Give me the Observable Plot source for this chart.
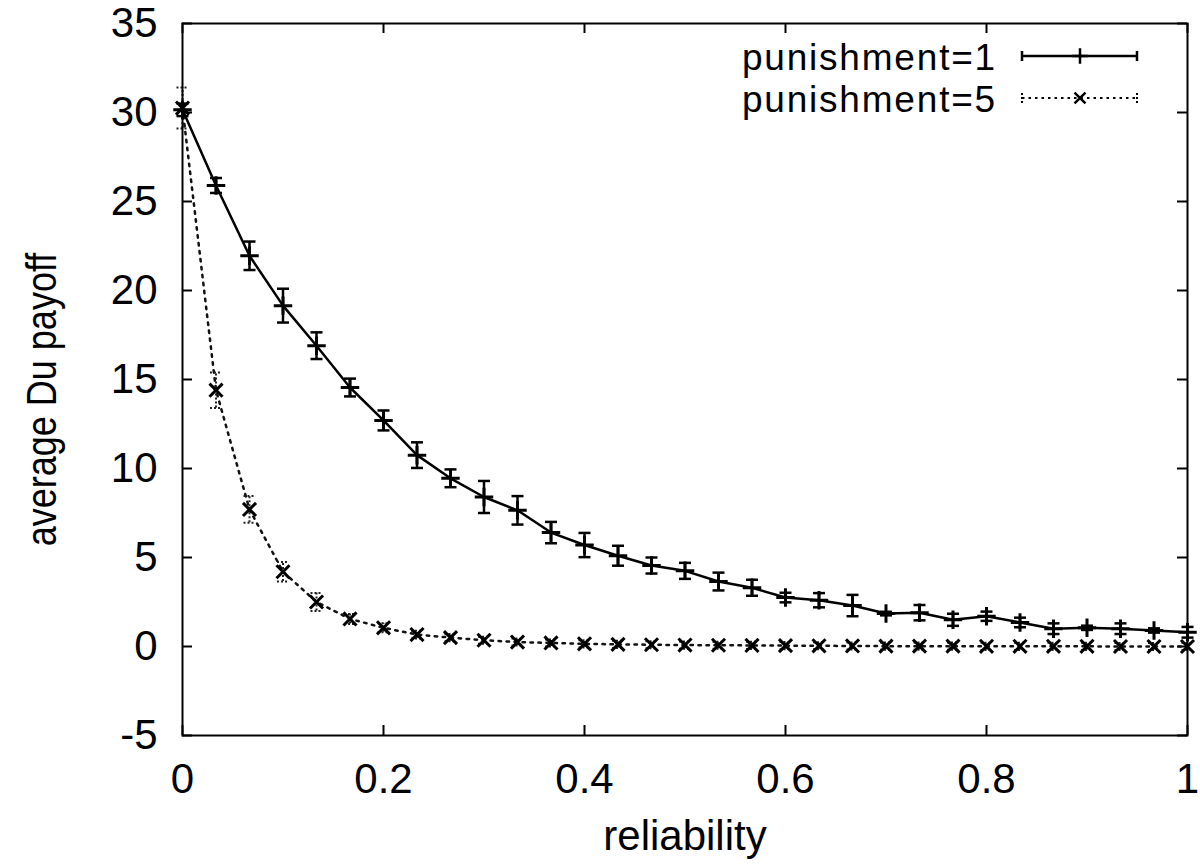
<!DOCTYPE html>
<html>
<head>
<meta charset="utf-8">
<script src="https://cdn.jsdelivr.net/npm/d3@7"></script>
<script src="https://cdn.jsdelivr.net/npm/@observablehq/plot@0.6"></script>
<style>
  html, body { margin: 0; padding: 0; background: #fff; }
  #chart { position: relative; width: 1200px; height: 864px; }
  svg { font-family: "Liberation Sans", Arial, Helvetica, sans-serif; }
</style>
</head>
<body>
<div id="chart"></div>
<script>
// ---- data ----
const reliability = [0, 1/30, 2/30, 3/30, 4/30, 5/30, 6/30, 7/30, 8/30, 9/30, 10/30,
  11/30, 12/30, 13/30, 14/30, 15/30, 16/30, 17/30, 18/30, 19/30, 20/30,
  21/30, 22/30, 23/30, 24/30, 25/30, 26/30, 27/30, 28/30, 29/30, 1];
const p1Mean = [30.15, 25.9, 21.95, 19.15, 16.9, 14.55, 12.7, 10.75, 9.45, 8.4, 7.65,
  6.4, 5.7, 5.1, 4.55, 4.25, 3.65, 3.3, 2.75, 2.6, 2.3,
  1.85, 1.9, 1.5, 1.7, 1.35, 1.0, 1.05, 1.0, 0.9, 0.8];
const p1Err = [0.35, 0.42, 0.8, 0.95, 0.75, 0.5, 0.56, 0.72, 0.5, 0.9, 0.8,
  0.6, 0.68, 0.56, 0.45, 0.45, 0.5, 0.45, 0.27, 0.4, 0.6,
  0.1, 0.43, 0.34, 0.26, 0.27, 0.3, 0.12, 0.3, 0.12, 0.3];
const p5Mean = [30.25, 14.4, 7.7, 4.2, 2.5, 1.55, 1.05, 0.67, 0.5, 0.35, 0.25,
  0.2, 0.15, 0.12, 0.1, 0.08, 0.07, 0.06, 0.05, 0.04, 0.03,
  0.02, 0.02, 0.02, 0.01, 0.01, 0.01, 0.01, 0, 0, 0];
const p5Err = [1.15, 1.0, 0.75, 0.55, 0.5, 0.28, 0.25, 0.22, 0.2, 0.2, 0.2,
  0.2, 0.2, 0.2, 0.2, 0.2, 0.2, 0.2, 0.2, 0.2, 0.2,
  0.2, 0.2, 0.2, 0.2, 0.2, 0.2, 0.2, 0.2, 0.2, 0.2];
const seriesNames = ["punishment=1", "punishment=5"];
const xTicks = [0, 0.2, 0.4, 0.6, 0.8, 1];
const yTicks = [-5, 0, 5, 10, 15, 20, 25, 30, 35];
const xLabel = "reliability";
const yLabel = "average Du payoff";

// ---- build tables ----
const rows1 = reliability.map((x, i) => ({x, y: p1Mean[i], lo: p1Mean[i] - p1Err[i], hi: p1Mean[i] + p1Err[i]}));
const rows5 = reliability.map((x, i) => ({x, y: p5Mean[i], lo: p5Mean[i] - p5Err[i], hi: p5Mean[i] + p5Err[i]}));

const W = 1200, H = 864, mL = 182, mR = 13, mT = 23, mB = 129;
const pw = W - mL - mR, ph = H - mT - mB;
const font = "Liberation Sans, Arial, Helvetica, sans-serif";

const capSymbol = {draw(ctx) { ctx.moveTo(-6, 0); ctx.lineTo(6, 0); }};

const chart = Plot.plot({
  width: W, height: H,
  marginLeft: mL, marginRight: mR, marginTop: mT, marginBottom: mB,
  style: {fontFamily: font, fontSize: "42px", background: "#fff", color: "#000"},
  x: {domain: [0, 1]},
  y: {domain: [-5, 35]},
  marks: [
    // inward ticks on all four sides
    Plot.tickY(yTicks, {y: d => d, insetRight: pw - 10, stroke: "#000", strokeWidth: 2}),
    Plot.tickY(yTicks, {y: d => d, insetLeft: pw - 10, stroke: "#000", strokeWidth: 2}),
    Plot.tickX(xTicks, {x: d => d, insetTop: ph - 10, stroke: "#000", strokeWidth: 2}),
    Plot.tickX(xTicks, {x: d => d, insetBottom: ph - 10, stroke: "#000", strokeWidth: 2}),
    // tick labels
    Plot.axisY(yTicks, {tickSize: 0, tickPadding: 25, label: null, fontSize: 42, tickFormat: d => String(d)}),
    Plot.axisX(xTicks, {tickSize: 0, tickPadding: 28, label: null, fontSize: 42, tickFormat: d => String(d)}),
    // axis titles
    Plot.text([xLabel], {frameAnchor: "bottom", dy: 114, fontSize: 42, fill: "#000"}),
    Plot.text([yLabel], {frameAnchor: "left", textAnchor: "middle", dx: -140, dy: 20, rotate: -90, fontSize: 40, fill: "#000"}),
    // punishment=5 (dotted)
    Plot.line(rows5, {x: "x", y: "y", stroke: "#111", strokeWidth: 2.5, strokeDasharray: "2.5,5.5"}),
    Plot.ruleX(rows5, {x: "x", y1: "lo", y2: "hi", stroke: "#222", strokeWidth: 2, strokeDasharray: "2,2"}),
    Plot.dot(rows5, {x: "x", y: "lo", symbol: capSymbol, fill: "none", stroke: "#222", strokeWidth: 2, strokeDasharray: "2,2"}),
    Plot.dot(rows5, {x: "x", y: "hi", symbol: capSymbol, fill: "none", stroke: "#222", strokeWidth: 2, strokeDasharray: "2,2"}),
    Plot.dot(rows5, {x: "x", y: "y", symbol: "times", r: 6, stroke: "#000", strokeWidth: 3}),
    // punishment=1 (solid)
    Plot.line(rows1, {x: "x", y: "y", stroke: "#000", strokeWidth: 2.5}),
    Plot.ruleX(rows1, {x: "x", y1: "lo", y2: "hi", stroke: "#000", strokeWidth: 2.5}),
    Plot.dot(rows1, {x: "x", y: "lo", symbol: capSymbol, fill: "none", stroke: "#000", strokeWidth: 2.5}),
    Plot.dot(rows1, {x: "x", y: "hi", symbol: capSymbol, fill: "none", stroke: "#000", strokeWidth: 2.5}),
    Plot.dot(rows1, {x: "x", y: "y", symbol: "plus", r: 6, stroke: "#000", strokeWidth: 3}),
    Plot.frame({stroke: "#000", strokeWidth: 2})
  ]
});
document.getElementById("chart").appendChild(chart);

// condense the rotated y title a bit (as in the reference)
d3.select(chart).selectAll("text").each(function() {
  if (this.textContent === yLabel) {
    const t = this.getAttribute("transform") || "";
    this.setAttribute("transform", t + " scale(0.9,1.05)");
  }
});

// ---- legend (inside top-right of the frame) ----
const svg = d3.select(chart);
const lg = svg.append("g").attr("font-family", font).attr("font-size", 37).attr("letter-spacing", "1.8px");
const rowsY = [56, 98];
const baselines = [70, 112];
const styles = [
  {dash: null, width: 2.5, sym: d3.symbolPlus},
  {dash: "2.5,4", width: 2, sym: d3.symbolTimes}
];
seriesNames.forEach((name, i) => {
  const y = rowsY[i];
  lg.append("text").attr("x", 997).attr("y", baselines[i]).attr("text-anchor", "end").attr("fill", "#000").text(name);
  const s = styles[i];
  const ln = lg.append("line").attr("x1", 1022).attr("x2", 1137).attr("y1", y).attr("y2", y)
    .attr("stroke", "#000").attr("stroke-width", s.width);
  if (s.dash) ln.attr("stroke-dasharray", s.dash);
  [1022, 1137].forEach(x => {
    const c = lg.append("line").attr("x1", x).attr("x2", x).attr("y1", y - 5).attr("y2", y + 5)
      .attr("stroke", "#000").attr("stroke-width", s.width);
    if (s.dash) c.attr("stroke-dasharray", "2,2");
  });
  lg.append("path").attr("transform", `translate(1080,${y})`)
    .attr("d", d3.symbol(s.sym, 80)()).attr("fill", "none").attr("stroke", "#000").attr("stroke-width", 2.5);
});
</script>
</body>
</html>
